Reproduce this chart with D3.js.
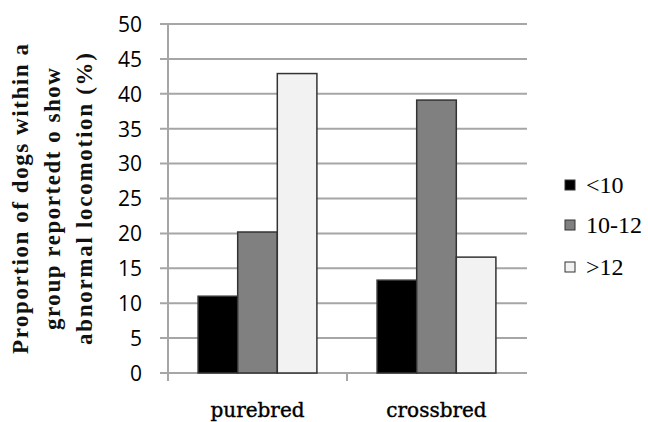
<!DOCTYPE html>
<html>
<head>
<meta charset="utf-8">
<script src="https://cdn.jsdelivr.net/npm/d3@7"></script>
<style>
  html, body { margin: 0; padding: 0; background: #fff; }
  svg { display: block; }
</style>
</head>
<body>
<svg id="chart" width="648" height="422"></svg>
<script>
const categories = ["purebred", "crossbred"];
const seriesNames = ["<10", "10-12", ">12"];
const purebredValues = [11.0, 20.2, 42.9];
const crossbredValues = [13.3, 39.1, 16.6];
const yTicks = [0, 5, 10, 15, 20, 25, 30, 35, 40, 45, 50];
const titleLines = ["Proportion of dogs within a", "group reportedt o show", "abnormal locomotion (%)"];
const seriesColors = ["#000000", "#808080", "#f2f2f2"];

(function () {
const values = [purebredValues, crossbredValues];
const svg = d3.select("#chart");

const plotLeft = 168, plotRight = 526, plotTop = 24, plotBottom = 373;
const y = d3.scaleLinear().domain([0, 50]).range([plotBottom, plotTop]);
const x0 = d3.scaleBand().domain(categories).range([plotLeft, plotRight]).padding(0);
const x1 = d3.scaleBand().domain(seriesNames).range([0, x0.bandwidth()]).paddingInner(0).paddingOuter(0.76);

// gridlines
svg.append("g").selectAll("line").data(yTicks).join("line")
  .attr("x1", plotLeft - 8).attr("x2", plotRight + 1)
  .attr("y1", d => y(d)).attr("y2", d => y(d))
  .attr("stroke", "#a6a6a6").attr("stroke-width", 2);

// y axis labels
const yAxis = d3.axisLeft(y).tickValues(yTicks).tickSize(0).tickPadding(0);
const gy = svg.append("g").attr("transform", `translate(142,0)`).call(yAxis);
gy.select(".domain").remove();
gy.selectAll("text").attr("font-family", "'Open Sans', sans-serif").attr("font-size", 21).attr("fill", "#000").attr("dy", "0.35em");

// axis lines
svg.append("line").attr("x1", plotLeft).attr("x2", plotLeft).attr("y1", plotTop).attr("y2", plotBottom + 8)
  .attr("stroke", "#a6a6a6").attr("stroke-width", 2);
svg.append("line").attr("x1", plotLeft).attr("x2", plotRight + 1).attr("y1", plotBottom).attr("y2", plotBottom)
  .attr("stroke", "#a6a6a6").attr("stroke-width", 2);
svg.append("g").selectAll("line").data(categories.slice(1)).join("line")
  .attr("x1", d => x0(d)).attr("x2", d => x0(d))
  .attr("y1", plotBottom).attr("y2", plotBottom + 8)
  .attr("stroke", "#a6a6a6").attr("stroke-width", 2);

// bars
const groups = svg.append("g").selectAll("g").data(categories).join("g")
  .attr("transform", d => `translate(${x0(d)},0)`);
groups.selectAll("rect").data((d, i) => values[i].map((v, j) => ({ s: seriesNames[j], v, j })))
  .join("rect")
  .attr("x", d => x1(d.s))
  .attr("width", x1.bandwidth())
  .attr("y", d => y(d.v))
  .attr("height", d => y(0) - y(d.v))
  .attr("fill", d => seriesColors[d.j])
  .attr("stroke", "#333").attr("stroke-width", 1.5);

// category labels
svg.append("g").selectAll("text").data(categories).join("text")
  .attr("x", d => x0(d) + x0.bandwidth() / 2)
  .attr("y", 417)
  .attr("text-anchor", "middle")
  .attr("font-family", "'DejaVu Serif', serif")
  .attr("font-size", 20)
  .attr("fill", "#000")
  .attr("stroke", "#000").attr("stroke-width", 0.4)
  .text(d => d);

// y title
const tg = svg.append("g").attr("transform", "translate(0,199) rotate(-90)");
const titleX = [28, 60, 92];
const titleLen = [310, 262, 292];
tg.selectAll("text").data(titleLines).join("text")
  .attr("x", 0).attr("y", (d, i) => titleX[i])
  .attr("text-anchor", "middle")
  .attr("font-family", "'Liberation Serif', serif")
  .attr("font-weight", "bold")
  .attr("font-size", 23)
  .attr("textLength", (d, i) => titleLen[i])
  .attr("lengthAdjust", "spacing")
  .attr("fill", "#111")
  .text(d => d);

// legend
const legendY = [185, 225, 267];
const lg = svg.append("g").selectAll("g").data(seriesNames).join("g")
  .attr("transform", (d, i) => `translate(565,${legendY[i]})`);
lg.append("rect").attr("x", 0).attr("y", -5).attr("width", 10).attr("height", 10)
  .attr("fill", (d, i) => seriesColors[i]).attr("stroke", "#333").attr("stroke-width", 1);
lg.append("text").attr("x", 21).attr("y", 7.5)
  .attr("font-family", "'Liberation Serif', 'Times New Roman', serif")
  .attr("font-size", 24)
  .attr("fill", "#000")
  .text(d => d);
})();
</script>
</body>
</html>
